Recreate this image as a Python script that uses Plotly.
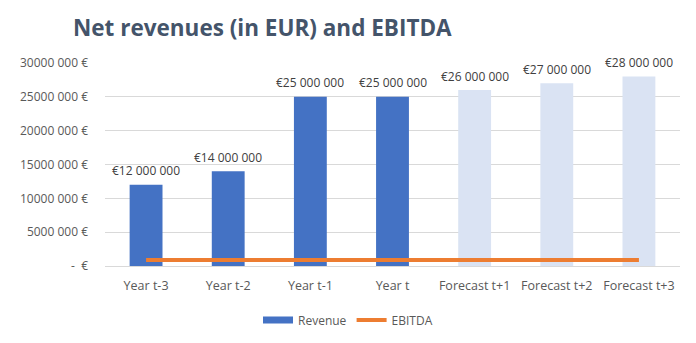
import plotly.graph_objects as go

categories = ["Year t-3", "Year t-2", "Year t-1", "Year t", "Forecast t+1", "Forecast t+2", "Forecast t+3"]
revenue = [12000000, 14000000, 25000000, 25000000, 26000000, 27000000, 28000000]
ebitda = [900000, 900000, 900000, 900000, 900000, 900000, 900000]
revenue_labels = ["€12 000 000", "€14 000 000", "€25 000 000", "€25 000 000", "€26 000 000", "€27 000 000", "€28 000 000"]
tick_vals = [0, 5000000, 10000000, 15000000, 20000000, 25000000, 30000000]
tick_text = ["-  €", "5000 000 €", "10000 000 €", "15000 000 €", "20000 000 €", "25000 000 €", "30000 000 €"]

bar_colors = ["#4472C4"] * 4 + ["#DAE3F3"] * 3

fig = go.Figure()
fig.add_trace(go.Bar(
    x=categories, y=revenue, name="Revenue", showlegend=False,
    marker=dict(color=bar_colors, line=dict(width=0)),
    width=0.4,
))
fig.add_trace(go.Scatter(
    x=categories, y=ebitda, name="EBITDA", mode="lines", showlegend=False,
    line=dict(color="#ED7D31", width=4),
))
# legend entries
fig.add_trace(go.Scatter(x=[None], y=[None], name="Revenue", mode="lines",
                         line=dict(color="#4472C4", width=7)))
fig.add_trace(go.Scatter(x=[None], y=[None], name="EBITDA", mode="lines",
                         line=dict(color="#ED7D31", width=4)))

for c, v, lab in zip(categories, revenue, revenue_labels):
    fig.add_annotation(x=c, y=v, text=lab, showarrow=False, yanchor="middle",
                       yshift=14, font=dict(size=12, color="#404040", family="Open Sans"))

fig.update_layout(
    width=696, height=343,
    margin=dict(l=105, r=16, t=63, b=77),
    paper_bgcolor="white", plot_bgcolor="white",
    font=dict(family="Open Sans", color="#595959", size=12),
    title=dict(text="<b>Net revenues (in EUR) and EBITDA</b>",
               font=dict(size=22.5, color="#44546A", family="Open Sans"),
               x=73/696, xanchor="left", xref="container",
               y=1-28/343, yanchor="middle", yref="container"),
    showlegend=True,
    legend=dict(orientation="h", xref="container", x=0.5, xanchor="center",
                yref="container", y=1-320/343, yanchor="middle",
                font=dict(size=12, color="#595959"), itemwidth=30,
                tracegroupgap=0),
)
fig.update_yaxes(range=[0, 30000000], tickvals=tick_vals, ticktext=tick_text,
                 showgrid=True, gridcolor="#D9D9D9", gridwidth=1,
                 zeroline=False, showline=False, ticks="", automargin=False,
                 ticklabelstandoff=16,
                 tickfont=dict(size=12, color="#595959"))
fig.update_xaxes(showgrid=False, showline=True, linecolor="#D9D9D9", ticks="",
                 automargin=False, ticklabelstandoff=8,
                 tickfont=dict(size=12.5, color="#595959"))

fig.write_html("out.html")
